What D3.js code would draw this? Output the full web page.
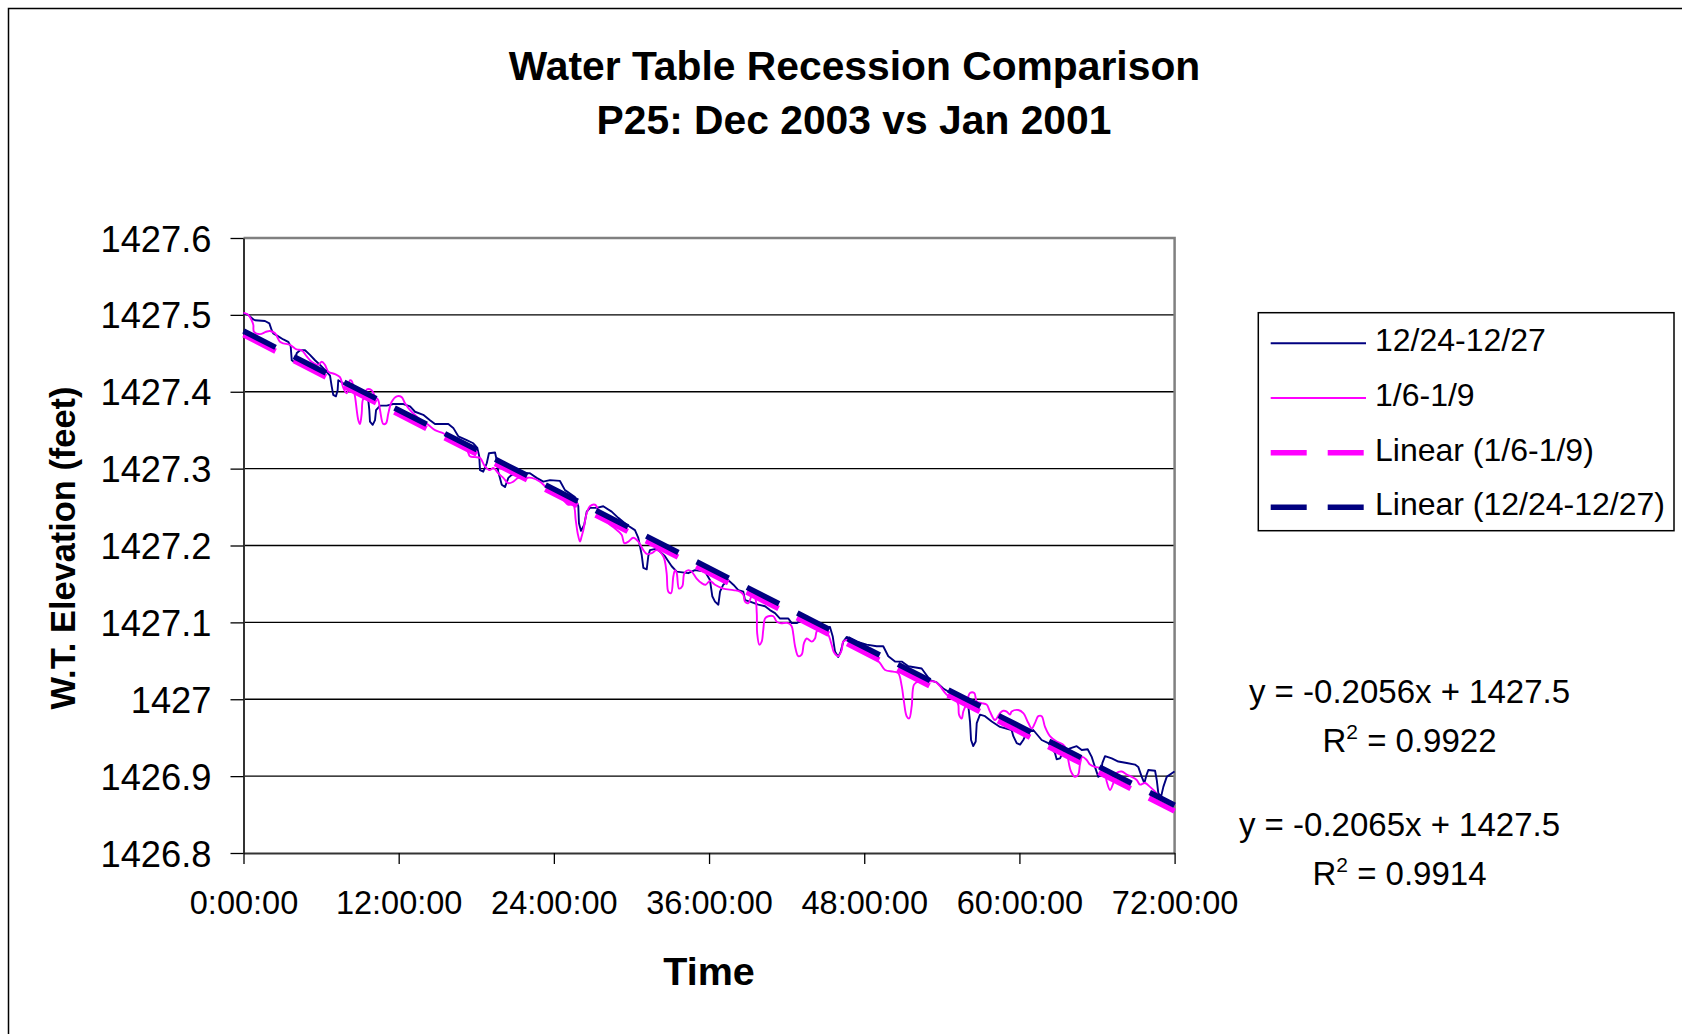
<!DOCTYPE html>
<html>
<head>
<meta charset="utf-8">
<script src="https://cdn.jsdelivr.net/npm/d3@7"></script>
<style>
  html, body { margin: 0; padding: 0; background: #fff; }
  svg { display: block; font-family: "Liberation Sans", Arial, sans-serif; }
</style>
</head>
<body>
<svg id="chart" width="1682" height="1034"></svg>
<script>
// Water-table elevation (feet) against elapsed time (hours) for well P25.
// Each entry is [hours since start, elevation].
const dec2003 = [
  [0,1427.502],[0.37,1427.500],[0.76,1427.494],[0.89,1427.493],[1.66,1427.492],[2.00,1427.489],
  [2.18,1427.480],[2.30,1427.476],[2.69,1427.472],[3.08,1427.468],[3.46,1427.465],[3.65,1427.459],
  [3.73,1427.441],[3.98,1427.438],[4.11,1427.450],[4.37,1427.454],[4.76,1427.454],[5.14,1427.448],
  [5.53,1427.441],[5.92,1427.435],[6.43,1427.426],[6.69,1427.421],[6.82,1427.407],[6.94,1427.396],
  [7.15,1427.394],[7.28,1427.402],[7.33,1427.415],[7.72,1427.411],[8.49,1427.405],[9.26,1427.397],
  [9.65,1427.389],[9.73,1427.376],[9.78,1427.361],[9.99,1427.357],[10.17,1427.363],[10.25,1427.376],
  [10.56,1427.382],[11.07,1427.382],[11.58,1427.384],[12.36,1427.384],[12.88,1427.381],[13.26,1427.374],
  [13.90,1427.370],[14.42,1427.363],[14.81,1427.358],[15.84,1427.358],[16.22,1427.353],[16.61,1427.342],
  [17.26,1427.337],[17.77,1427.333],[18.08,1427.327],[18.23,1427.316],[18.29,1427.298],[18.54,1427.296],
  [18.81,1427.307],[18.98,1427.320],[19.45,1427.321],[19.58,1427.311],[19.70,1427.296],[19.97,1427.279],
  [20.22,1427.276],[20.48,1427.288],[20.74,1427.292],[21.77,1427.294],[22.15,1427.294],[22.67,1427.288],
  [23.18,1427.283],[23.70,1427.285],[24.47,1427.284],[24.86,1427.272],[25.63,1427.263],[25.89,1427.251],
  [25.94,1427.229],[26.10,1427.219],[26.35,1427.227],[26.54,1427.244],[26.79,1427.249],[27.31,1427.249],
  [27.82,1427.251],[28.47,1427.244],[28.98,1427.236],[29.63,1427.227],[30.27,1427.220],[30.53,1427.210],
  [30.79,1427.188],[30.92,1427.171],[31.18,1427.169],[31.30,1427.186],[31.43,1427.194],[31.95,1427.196],
  [32.59,1427.186],[33.11,1427.173],[33.50,1427.166],[34.39,1427.164],[34.91,1427.168],[35.69,1427.166],
  [36.07,1427.155],[36.25,1427.134],[36.46,1427.127],[36.72,1427.123],[36.85,1427.140],[37.10,1427.149],
  [37.49,1427.155],[37.88,1427.149],[38.26,1427.142],[38.65,1427.140],[38.78,1427.129],[39.17,1427.127],
  [39.81,1427.123],[40.33,1427.121],[40.71,1427.116],[41.10,1427.112],[41.49,1427.105],[42.13,1427.105],
  [42.39,1427.099],[42.78,1427.099],[43.16,1427.103],[43.81,1427.099],[44.58,1427.092],[45.35,1427.094],
  [45.56,1427.082],[45.74,1427.062],[45.99,1427.055],[46.18,1427.062],[46.38,1427.075],[46.64,1427.081],
  [47.42,1427.075],[48.19,1427.071],[48.96,1427.069],[49.47,1427.069],[49.86,1427.056],[50.38,1427.049],
  [50.90,1427.049],[51.41,1427.043],[52.44,1427.040],[53.09,1427.025],[53.60,1427.022],[54.11,1427.014],
  [54.50,1427.010],[55.02,1427.006],[55.79,1426.997],[56.05,1426.991],[56.18,1426.971],[56.26,1426.947],
  [56.43,1426.939],[56.62,1426.945],[56.70,1426.969],[56.95,1426.980],[57.34,1426.978],[57.86,1426.971],
  [58.50,1426.964],[59.40,1426.960],[59.53,1426.952],[59.79,1426.943],[60.05,1426.941],[60.30,1426.947],
  [60.56,1426.956],[61.07,1426.960],[61.72,1426.947],[62.23,1426.943],[62.75,1426.930],[62.88,1426.922],
  [63.14,1426.923],[63.39,1426.932],[63.91,1426.936],[64.43,1426.939],[64.82,1426.934],[65.28,1426.935],
  [65.59,1426.925],[65.84,1426.912],[66.10,1426.899],[66.31,1426.902],[66.41,1426.917],[66.62,1426.926],
  [67.14,1426.923],[67.65,1426.919],[68.30,1426.917],[68.94,1426.915],[69.19,1426.912],[69.46,1426.899],
  [69.66,1426.891],[69.84,1426.902],[69.97,1426.908],[70.49,1426.907],[70.62,1426.895],[70.74,1426.878],
  [70.95,1426.873],[71.13,1426.886],[71.39,1426.899],[71.90,1426.905],[72.00,1426.906]
];

const jan2001 = [
  [0,1427.503],[0.37,1427.500],[0.63,1427.493],[0.76,1427.487],[0.81,1427.478],[1.28,1427.475],
  [1.74,1427.478],[2.05,1427.479],[2.44,1427.476],[2.82,1427.465],[3.08,1427.463],[3.60,1427.461],
  [4.11,1427.455],[4.50,1427.454],[4.89,1427.446],[5.27,1427.439],[5.78,1427.435],[6.05,1427.439],
  [6.30,1427.435],[6.56,1427.426],[7.08,1427.423],[7.46,1427.419],[7.72,1427.405],[7.98,1427.398],
  [8.24,1427.415],[8.37,1427.414],[8.62,1427.394],[8.88,1427.363],[9.01,1427.358],[9.14,1427.372],
  [9.22,1427.389],[9.40,1427.394],[9.53,1427.403],[9.91,1427.402],[10.17,1427.394],[10.42,1427.389],
  [10.56,1427.376],[10.81,1427.358],[11.02,1427.359],[11.20,1427.372],[11.46,1427.387],[11.85,1427.394],
  [12.23,1427.393],[12.49,1427.385],[12.88,1427.376],[13.52,1427.366],[14.29,1427.357],[14.81,1427.350],
  [15.45,1427.346],[15.71,1427.342],[16.49,1427.333],[17.26,1427.325],[17.51,1427.316],[17.90,1427.315],
  [18.29,1427.314],[18.67,1427.303],[19.06,1427.298],[19.32,1427.301],[19.70,1427.294],[20.09,1427.288],
  [20.48,1427.281],[20.86,1427.283],[21.25,1427.288],[21.77,1427.288],[22.29,1427.288],[22.93,1427.283],
  [23.45,1427.275],[24.09,1427.268],[24.73,1427.259],[25.12,1427.253],[25.50,1427.253],[25.69,1427.233],
  [25.84,1427.216],[26.02,1427.205],[26.15,1427.212],[26.28,1427.220],[26.54,1427.242],[26.79,1427.251],
  [27.18,1427.253],[27.57,1427.242],[27.95,1427.233],[28.34,1427.227],[28.72,1427.222],[29.24,1427.214],
  [29.45,1427.203],[29.76,1427.205],[30.14,1427.210],[30.53,1427.205],[30.92,1427.194],[31.18,1427.189],
  [31.57,1427.190],[31.95,1427.194],[32.46,1427.186],[32.72,1427.164],[32.85,1427.140],[33.06,1427.138],
  [33.24,1427.160],[33.37,1427.168],[33.50,1427.164],[33.68,1427.144],[33.93,1427.147],[34.09,1427.164],
  [34.40,1427.168],[34.66,1427.166],[35.04,1427.157],[35.43,1427.151],[35.74,1427.149],[36.07,1427.154],
  [36.46,1427.149],[37.10,1427.144],[37.88,1427.142],[38.39,1427.140],[38.65,1427.136],[38.78,1427.127],
  [39.04,1427.125],[39.30,1427.134],[39.55,1427.132],[39.69,1427.112],[39.72,1427.086],[39.89,1427.071],
  [40.07,1427.075],[40.19,1427.090],[40.33,1427.105],[40.58,1427.108],[40.97,1427.108],[41.23,1427.101],
  [41.49,1427.099],[42.13,1427.099],[42.39,1427.095],[42.52,1427.084],[42.65,1427.069],[42.90,1427.056],
  [43.16,1427.058],[43.34,1427.073],[43.55,1427.079],[43.94,1427.075],[44.19,1427.079],[44.32,1427.088],
  [44.58,1427.092],[44.97,1427.088],[45.22,1427.084],[45.48,1427.071],[45.66,1427.061],[45.99,1427.056],
  [46.26,1427.064],[46.38,1427.075],[46.77,1427.077],[47.42,1427.071],[48.19,1427.062],[48.70,1427.056],
  [49.22,1427.047],[49.61,1427.038],[50.25,1427.036],[50.63,1427.034],[50.90,1427.017],[51.07,1426.997],
  [51.28,1426.978],[51.48,1426.975],[51.67,1426.991],[51.85,1427.019],[52.18,1427.023],[52.83,1427.023],
  [53.47,1427.023],[53.86,1427.017],[54.38,1427.006],[55.02,1427.001],[55.27,1426.993],[55.33,1426.980],
  [55.54,1426.975],[55.66,1426.984],[55.92,1426.995],[56.18,1427.008],[56.51,1427.008],[56.70,1426.997],
  [57.08,1426.995],[57.47,1426.993],[57.72,1426.984],[58.11,1426.973],[58.50,1426.982],[58.75,1426.985],
  [59.02,1426.984],[59.27,1426.980],[59.40,1426.984],[59.91,1426.986],[60.30,1426.982],[60.69,1426.969],
  [60.95,1426.962],[61.20,1426.969],[61.46,1426.978],[61.72,1426.978],[61.98,1426.964],[62.36,1426.952],
  [62.88,1426.945],[63.39,1426.941],[63.66,1426.934],[63.78,1426.921],[63.99,1426.906],[64.30,1426.899],
  [64.55,1426.902],[64.68,1426.915],[64.86,1426.925],[65.20,1426.921],[65.46,1426.915],[65.84,1426.912],
  [66.36,1426.910],[66.62,1426.904],[66.75,1426.893],[67.01,1426.882],[67.26,1426.891],[67.52,1426.904],
  [67.91,1426.906],[68.30,1426.902],[68.68,1426.899],[69.07,1426.895],[69.32,1426.889],[69.71,1426.891],
  [70.10,1426.886],[70.48,1426.880],[70.87,1426.873],[71.39,1426.869],[71.90,1426.865],[72.00,1426.862]
];

// Least-squares trend lines (x in days), as reported with the chart.
const trendSlopes = { dec: -0.2056, jan: -0.2065 };
const trendIntercepts = { dec: 1427.479, jan: 1427.474 };
const trendR2 = { dec: 0.9922, jan: 0.9914 };

const xTickHours = [0, 12, 24, 36, 48, 60, 72];
const xTickLabels = ["0:00:00", "12:00:00", "24:00:00", "36:00:00", "48:00:00", "60:00:00", "72:00:00"];
const yTickValues = [1426.8, 1426.9, 1427.0, 1427.1, 1427.2, 1427.3, 1427.4, 1427.5, 1427.6];
const yTickLabels = ["1426.8", "1426.9", "1427", "1427.1", "1427.2", "1427.3", "1427.4", "1427.5", "1427.6"];

const legendLabels = ["12/24-12/27", "1/6-1/9", "Linear (1/6-1/9)", "Linear (12/24-12/27)"];

const NAVY = "#000080";
const MAGENTA = "#ff00ff";

const svg = d3.select("#chart");
const plot = { left: 243.5, right: 1174.6, top: 238, bottom: 853 };

const x = d3.scaleLinear().domain([0, 72]).range([plot.left, plot.right]);
const y = d3.scaleLinear().domain([1426.8, 1427.6]).range([plot.bottom, plot.top]);

// outer chart frame
svg.append("rect")
  .attr("x", 8.5).attr("y", 8.5).attr("width", 1720).attr("height", 1060)
  .attr("fill", "none").attr("stroke", "#000").attr("stroke-width", 1.5);

// titles
const title = svg.append("text")
  .attr("text-anchor", "middle").attr("font-weight", "bold").attr("font-size", 40.8);
title.append("tspan").attr("x", 854.5).attr("y", 80).text("Water Table Recession Comparison");
title.append("tspan").attr("x", 854).attr("y", 134).text("P25: Dec 2003 vs Jan 2001");

// horizontal gridlines
svg.append("g").selectAll("line")
  .data(yTickValues.slice(1, -1))
  .join("line")
  .attr("x1", plot.left).attr("x2", plot.right)
  .attr("y1", d => y(d)).attr("y2", d => y(d))
  .attr("stroke", "#000").attr("stroke-width", 1.3);

// plot area border (top and right in grey)
svg.append("path")
  .attr("d", `M${plot.left},${plot.top}H${plot.right}V${plot.bottom}`)
  .attr("fill", "none").attr("stroke", "#808080").attr("stroke-width", 2.5);

// y axis
const yAxis = d3.axisLeft(y)
  .tickValues(yTickValues)
  .tickFormat((d, i) => yTickLabels[i])
  .tickSize(13).tickSizeOuter(0).tickPadding(19);
const gy = svg.append("g").attr("transform", `translate(${plot.left},0)`).call(yAxis);
gy.select(".domain").attr("stroke", "#333").attr("stroke-width", 2);
gy.selectAll(".tick line").attr("stroke", "#000").attr("stroke-width", 1.3);
gy.selectAll(".tick text")
  .attr("font-family", "'Liberation Sans', Arial, sans-serif")
  .attr("font-size", 36.3).attr("fill", "#000").attr("dy", "0.36em");

// x axis
const xAxis = d3.axisBottom(x)
  .tickValues(xTickHours)
  .tickFormat((d, i) => xTickLabels[i])
  .tickSize(11).tickSizeOuter(0).tickPadding(27);
const gx = svg.append("g").attr("transform", `translate(0,${plot.bottom})`).call(xAxis);
gx.select(".domain").attr("stroke", "#333").attr("stroke-width", 2);
gx.selectAll(".tick line").attr("stroke", "#000").attr("stroke-width", 1.3);
gx.selectAll(".tick text")
  .attr("font-family", "'Liberation Sans', Arial, sans-serif")
  .attr("font-size", 32.5).attr("fill", "#000");

// axis titles
svg.append("text")
  .attr("x", 709).attr("y", 985)
  .attr("text-anchor", "middle").attr("font-weight", "bold").attr("font-size", 39.5)
  .text("Time");
svg.append("text")
  .attr("transform", "translate(75,548) rotate(-90)")
  .attr("text-anchor", "middle").attr("font-weight", "bold").attr("font-size", 34.4)
  .text("W.T. Elevation (feet)");

// data series
const lineDec = d3.line().x(d => x(d[0])).y(d => y(d[1]));
const lineJan = d3.line().x(d => x(d[0])).y(d => y(d[1])).curve(d3.curveCatmullRom.alpha(0.5));

svg.append("path").datum(dec2003)
  .attr("d", lineDec).attr("fill", "none")
  .attr("stroke", NAVY).attr("stroke-width", 1.9).attr("stroke-linejoin", "round");
svg.append("path").datum(jan2001)
  .attr("d", lineJan).attr("fill", "none")
  .attr("stroke", MAGENTA).attr("stroke-width", 1.9).attr("stroke-linejoin", "round");

// trend lines
function trendPoints(key) {
  return [0, 72].map(h => [h, trendIntercepts[key] + trendSlopes[key] * h / 24]);
}
const straight = d3.line().x(d => x(d[0])).y(d => y(d[1]));
svg.append("path").datum(trendPoints("jan"))
  .attr("d", straight).attr("fill", "none")
  .attr("stroke", MAGENTA).attr("stroke-width", 5.5).attr("stroke-dasharray", "36,20.5");
svg.append("path").datum(trendPoints("dec"))
  .attr("d", straight).attr("fill", "none")
  .attr("stroke", NAVY).attr("stroke-width", 5.5).attr("stroke-dasharray", "36,20.5");

// legend
const legend = svg.append("g");
legend.append("rect")
  .attr("x", 1258.3).attr("y", 312.7).attr("width", 415.7).attr("height", 218)
  .attr("fill", "#fff").attr("stroke", "#000").attr("stroke-width", 1.5);
const legendStyles = [
  { color: NAVY, width: 2, dash: null },
  { color: MAGENTA, width: 2, dash: null },
  { color: MAGENTA, width: 5.5, dash: "36,21" },
  { color: NAVY, width: 5.5, dash: "36,21" }
];
const legendRowY = d3.scalePoint().domain(d3.range(legendLabels.length)).range([343.3, 507.3]);
legendLabels.forEach((label, i) => {
  const ry = legendRowY(i);
  const st = legendStyles[i];
  legend.append("line")
    .attr("x1", 1270.7).attr("x2", 1366).attr("y1", ry).attr("y2", ry)
    .attr("stroke", st.color).attr("stroke-width", st.width)
    .attr("stroke-dasharray", st.dash);
  legend.append("text")
    .attr("x", 1375).attr("y", ry + 8)
    .attr("font-size", 32).text(label);
});

// trend equations
const fmtSlope = d3.format(".4f");
const fmtIntercept = d3.format(".1f");
function equation(key, cx, baseY) {
  const g = svg.append("g").attr("font-size", 33);
  g.append("text").attr("x", cx).attr("y", baseY).attr("text-anchor", "middle")
    .text(`y = ${fmtSlope(trendSlopes[key]).replace("−", "-")}x + ${fmtIntercept(trendIntercepts[key])}`);
  const r = g.append("text").attr("x", cx).attr("y", baseY + 48.5).attr("text-anchor", "middle");
  r.append("tspan").text("R");
  r.append("tspan").attr("font-size", 21).attr("dy", -13).text("2");
  r.append("tspan").attr("dy", 13).text(` = ${trendR2[key].toFixed(4)}`);
}
equation("dec", 1409.5, 703);
equation("jan", 1399.5, 836);
</script>
</body>
</html>
